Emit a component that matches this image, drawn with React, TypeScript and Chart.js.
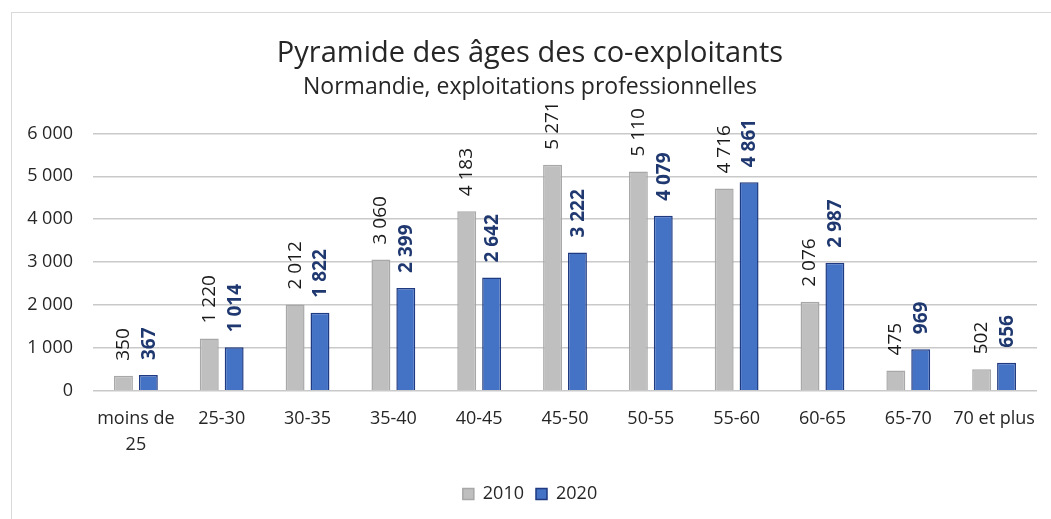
import React, { useEffect, useRef } from "react";
import { Chart, registerables } from "chart.js";

Chart.register(...registerables);

const categories: (string | string[])[] = [
  ["moins de", "25"],
  "25-30",
  "30-35",
  "35-40",
  "40-45",
  "45-50",
  "50-55",
  "55-60",
  "60-65",
  "65-70",
  "70 et plus",
];
const values2010 = [350, 1220, 2012, 3060, 4183, 5271, 5110, 4716, 2076, 475, 502];
const values2020 = [367, 1014, 1822, 2399, 2642, 3222, 4079, 4861, 2987, 969, 656];
const seriesLabels = ["2010", "2020"];
const titleText = "Pyramide des âges des co-exploitants";
const subtitleText = "Normandie, exploitations professionnelles";

const FONT = "'Open Sans', 'Noto Sans', sans-serif";

const fmt = (v: number) => {
  const s = Math.round(v).toString();
  return s.replace(/\B(?=(\d{3})+(?!\d))/g, " ");
};

const labelPlugin = {
  id: "verticalLabels",
  afterDatasetsDraw(chart: any) {
    const ctx = chart.ctx;
    chart.data.datasets.forEach((ds: any, i: number) => {
      const meta = chart.getDatasetMeta(i);
      meta.data.forEach((bar: any, j: number) => {
        const v = ds.data[j];
        ctx.save();
        ctx.translate(bar.x + (i === 1 ? 1 : 0), bar.y - 15);
        ctx.rotate(-Math.PI / 2);
        ctx.textAlign = "left";
        ctx.textBaseline = "middle";
        if (i === 0) {
          ctx.font = `normal 19px ${FONT}`;
          ctx.fillStyle = "#1a1a1a";
        } else {
          ctx.font = `bold 19px ${FONT}`;
          ctx.fillStyle = "#1F3870";
        }
        ctx.fillText(fmt(v), 0, 0);
        ctx.restore();
      });
    });
  },
};

export default function App() {
  const ref = useRef<HTMLCanvasElement>(null);
  useEffect(() => {
    if (!ref.current) return;
    const chart = new Chart(ref.current, {
      type: "bar",
      data: {
        labels: categories,
        datasets: [
          {
            label: seriesLabels[0],
            data: values2010,
            backgroundColor: "#BFBFBF",
            borderColor: "#A8A8A8",
            borderWidth: 1.5,
            categoryPercentage: 0.58,
            barPercentage: 0.76,
          },
          {
            label: seriesLabels[1],
            data: values2020,
            backgroundColor: "#4472C4",
            borderColor: "#1F3A80",
            borderWidth: 1.5,
            categoryPercentage: 0.58,
            barPercentage: 0.76,
          },
        ],
      },
      options: {
        animation: false,
        responsive: false,
        maintainAspectRatio: false,
        layout: { padding: { top: 0, left: 11, right: 14, bottom: 6 } },
        plugins: {
          title: {
            display: true,
            text: titleText,
            color: "#262626",
            font: { family: FONT, size: 29, weight: "normal", lineHeight: 1.2 },
            padding: { top: 23, bottom: 0 },
          },
          subtitle: {
            display: true,
            text: subtitleText,
            color: "#262626",
            font: { family: FONT, size: 23, weight: "normal", lineHeight: 1.2 },
            padding: { top: 3, bottom: 32 },
          },
          legend: {
            display: true,
            position: "bottom",
            labels: {
              color: "#262626",
              font: { family: FONT, size: 18 },
              boxWidth: 11,
              boxHeight: 11,
              padding: 12,
            },
          },
          tooltip: { enabled: false },
        },
        scales: {
          x: {
            grid: { display: false, drawTicks: false },
            border: { display: false },
            ticks: {
              color: "#262626",
              font: { family: FONT, size: 18, lineHeight: 1.45 },
              padding: 15,
              maxRotation: 0,
              autoSkip: false,
            },
          },
          y: {
            min: 0,
            max: 6000,
            afterFit: (scale: any) => {
              scale.width = 70;
            },
            grid: { color: "#C9C9C9", lineWidth: 1.5, drawTicks: false },
            border: { display: false },
            ticks: {
              stepSize: 1000,
              color: "#262626",
              font: { family: FONT, size: 18 },
              padding: 20,
              callback: (v: any) => fmt(Number(v)),
            },
          },
        },
      },
      plugins: [labelPlugin],
    });
    return () => chart.destroy();
  }, []);

  return (
    <div
      style={{
        position: "fixed",
        left: 11,
        top: 12,
        width: 1100,
        height: 600,
        border: "1px solid #D9D9D9",
        background: "#fff",
      }}
    >
      <canvas
        ref={ref}
        width={1039}
        height={506}
        style={{ display: "block", width: 1039, height: 506 }}
      />
    </div>
  );
}
